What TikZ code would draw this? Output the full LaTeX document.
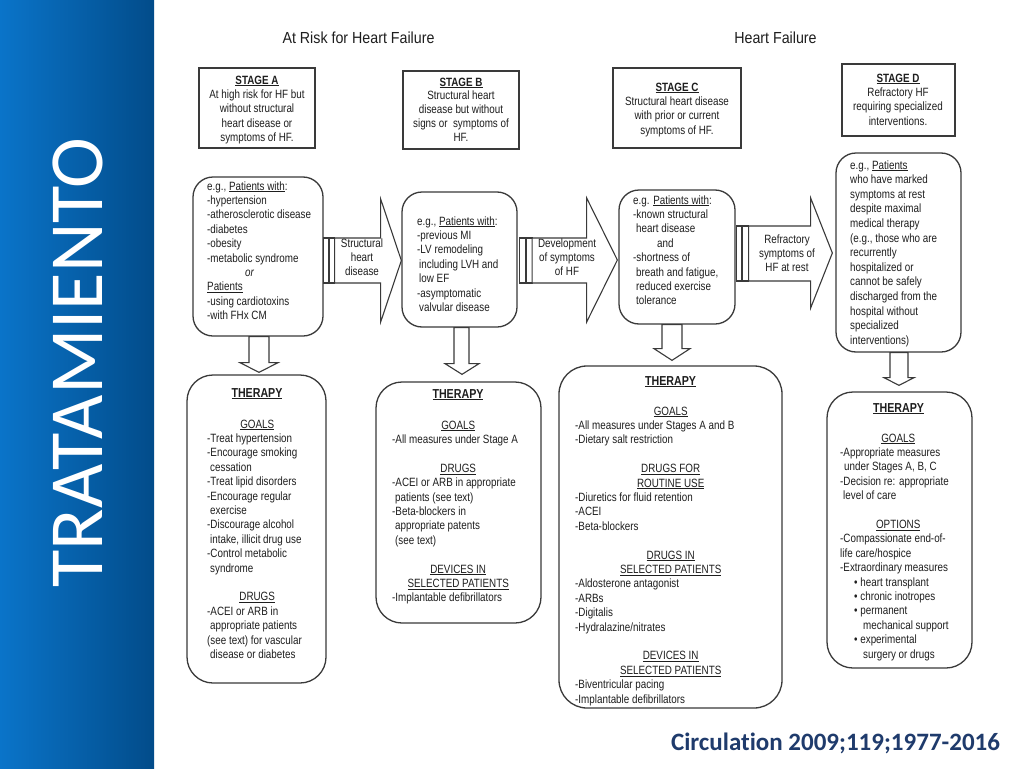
\documentclass[tikz,border=0pt]{standalone}
\usepackage{fontspec}
\setmainfont{Liberation Sans}[FakeStretch=0.82]
\newfontfamily\hdrfont{Liberation Sans}[FakeStretch=0.89]
\newfontfamily\carlito{Carlito}[Ligatures=NoCommon]
\usetikzlibrary{calc}
\definecolor{ink}{HTML}{1E1E1E}
\definecolor{edge}{HTML}{3A3A3A}
\definecolor{barL}{HTML}{0A74C9}
\definecolor{barR}{HTML}{024C8A}
\definecolor{citec}{HTML}{1F3B6C}
\newcommand\bodyf{\fontsize{12}{14.4}\selectfont}
\newcommand\hd[2]{\makebox[#1pt][c]{\underline{#2}}}
\begin{document}
\begin{tikzpicture}[x=1pt,y=-1pt,
  stagebox/.style={draw=edge, line width=1.8pt, inner sep=0, fill=white},
  roundbox/.style={draw=edge, line width=1.3pt, rounded corners=20pt, inner sep=0, fill=white},
  body/.style={font=\bodyf, text=ink, inner sep=0, align=left, anchor=base west},
  ctext/.style={font=\bodyf, text=ink, inner sep=0, align=center, anchor=base},
  thtitle/.style={font=\fontsize{13}{15}\selectfont\bfseries, text=ink, inner sep=0, anchor=base},
  header/.style={font=\hdrfont\fontsize{16}{18}\selectfont, text=ink, inner sep=0, anchor=base},
  blockarrow/.style={draw=edge, line width=1.1pt, fill=white, line join=miter},
]
\fill[white] (0,0) rectangle (1024,768);
\useasboundingbox (0,0) rectangle (1024,768);
\shade[left color=barL, right color=barR] (0,0) rectangle (154,768);
\node[rotate=90, font=\carlito\fontsize{76.5}{80}\selectfont, text=white, inner sep=0] (title) at (77.5,362.5) {TRATAMIENTO};
\node[font=\carlito\bfseries\fontsize{25}{27}\selectfont, text=citec, anchor=base, inner sep=0] (cite) at (835.5,750) {Circulation 2009;119;1977-2016};

% headers
\node[header] (h1) at (358.5,44) {At Risk for Heart Failure};
\node[header] (h2) at (775.5,44) {Heart Failure};

% stage boxes
\node[stagebox, minimum width=116pt, minimum height=80pt] (stA) at (257,108) {};
\node[stagebox, minimum width=116pt, minimum height=78pt] (stB) at (461,110) {};
\node[stagebox, minimum width=128pt, minimum height=80pt] (stC) at (677,108) {};
\node[stagebox, minimum width=113pt, minimum height=72pt] (stD) at (898.5,100) {};

% patient boxes
\node[roundbox, minimum width=130pt, minimum height=159pt] (paA) at (258,256.5) {};
\node[roundbox, minimum width=115pt, minimum height=135pt] (paB) at (459.5,259.5) {};
\node[roundbox, minimum width=116pt, minimum height=134pt] (paC) at (677,257) {};
\node[roundbox, minimum width=125pt, minimum height=199pt] (paD) at (898.5,252.5) {};

% therapy boxes
\node[roundbox, rounded corners=26pt, minimum width=139pt, minimum height=308pt] (thA) at (256.5,529) {};
\node[roundbox, rounded corners=26pt, minimum width=165pt, minimum height=241pt] (thB) at (458.5,502.5) {};
\node[roundbox, rounded corners=28pt, minimum width=223pt, minimum height=342pt] (thC) at (670.5,537) {};
\node[roundbox, rounded corners=26pt, minimum width=145pt, minimum height=276pt] (thD) at (899.5,530) {};

% right block arrows
\draw[blockarrow] ($(paA.east)+(0,-18.5)$) rectangle ++(5,45);
\draw[blockarrow] ($(paA.east)+(6,-18.5)$) rectangle ++(5,45);
\draw[blockarrow] ($(paA.east)+(11,-18.5)$) -- ++(46,0) -- ++(0,-39) -- ($(paB.west)+(0,1)$) -- ($(paA.east)+(57,65.5)$) -- ++(0,-39) -- ++(-46,0) -- cycle;

\draw[blockarrow] ($(paB.east)+(1.5,-21.5)$) rectangle ++(6,45);
\draw[blockarrow] ($(paB.east)+(8.5,-21.5)$) rectangle ++(6,45);
\draw[blockarrow] ($(paB.east)+(14.5,-21.5)$) -- ++(54.5,0) -- ++(0,-40) -- ($(paC.west)+(-1,3)$) -- ($(paB.east)+(69,62.5)$) -- ++(0,-39) -- ++(-54.5,0) -- cycle;

\draw[blockarrow] ($(paC.east)+(0.5,-31)$) rectangle ++(5.5,55);
\draw[blockarrow] ($(paC.east)+(7,-31)$) rectangle ++(5.5,55);
\draw[blockarrow] ($(paC.east)+(13,-31)$) -- ++(62,0) -- ++(0,-28) -- ($(paD.west)+(-3,0.5)$) -- ($(paC.east)+(75,51)$) -- ++(0,-27) -- ++(-62,0) -- cycle;

% down block arrows
\draw[blockarrow] ($(paA.south)+(-9,0)$) -- ++(0,26) -- ++(-9,0) -- ($(thA.north)+(2.5,-2)$) -- ($(paA.south)+(20,26)$) -- ++(-9,0) -- ++(0,-26) -- cycle;
\draw[blockarrow] ($(paB.south)+(-5.5,0)$) -- ++(0,36) -- ++(-9,0) -- ($(thB.north)+(3.5,-7)$) -- ($(paB.south)+(19.5,36)$) -- ++(-10,0) -- ++(0,-36) -- cycle;
\draw[blockarrow] ($(paC.south)+(-15,0)$) -- ++(0,24) -- ++(-8,0) -- ($(thC.north)+(1.5,-5)$) -- ($(paC.south)+(13,24)$) -- ++(-8,0) -- ++(0,-24) -- cycle;
\draw[blockarrow] ($(paD.south)+(-8.5,0)$) -- ++(0,25) -- ++(-6,0) -- ($(thD.north)+(-0.5,-6)$) -- ($(paD.south)+(15.5,25)$) -- ++(-6,0) -- ++(0,-25) -- cycle;

% arrow labels (anchored at the baseline of their last line)
\node[ctext] (lab1) at (362,275.8) {Structural\\heart\\disease};
\node[ctext] (lab2) at (567,275.8) {Development\\of symptoms\\of HF};
\node[ctext] (lab3) at (787,271.8) {Refractory\\symptoms of\\HF at rest};

% stage texts
\node[ctext] (tA) at (257,141.6) {\textbf{\underline{STAGE A}}\\At high risk for HF but\\without structural\\heart disease or\\symptoms of HF.};
\node[ctext, font=\fontsize{12}{13.9}\selectfont] (tB) at (461,141.6) {\textbf{\underline{STAGE B}}\\Structural heart\\disease but without\\signs or\ \ symptoms of\\HF.};
\node[ctext] (tC) at (677,134.2) {\textbf{\underline{STAGE C}}\\Structural heart disease\\with prior or current\\symptoms of HF.};
\node[ctext] (tD) at (898,125.2) {\textbf{\underline{STAGE D}}\\Refractory HF\\requiring specialized\\interventions.};

% patient texts
\node[body] (pA) at (207,319.6) {e.g., \underline{Patients with}:\\-hypertension\\-atherosclerotic disease\\-diabetes\\-obesity\\-metabolic syndrome\\\hspace*{38pt}\textit{or}\\\underline{Patients}\\-using cardiotoxins\\-with FHx CM};
\node[body] (pB) at (417,311.4) {e.g., \underline{Patients with}:\\-previous MI\\-LV remodeling\\\hspace*{2pt}including LVH and\\\hspace*{2pt}low EF\\-asymptomatic\\\hspace*{2pt}valvular disease};
\node[body] (pC) at (633,304.8) {e.g. \underline{Patients with}:\\-known structural\\\hspace*{3pt}heart disease\\\hspace*{24pt}and\\-shortness of\\\hspace*{3pt}breath and fatigue,\\\hspace*{3pt}reduced exercise\\\hspace*{3pt}tolerance};
\node[body, font=\fontsize{12}{14.6}\selectfont] (pD) at (850,344.2) {e.g., \underline{Patients}\\who have marked\\symptoms at rest\\despite maximal\\medical therapy\\(e.g., those who are\\recurrently\\hospitalized or\\cannot be safely\\discharged from the\\hospital without\\specialized\\interventions)};

% therapy titles
\node[thtitle] (ttA) at (257,397) {\underline{THERAPY}};
\node[thtitle] (ttB) at (458,398) {\underline{THERAPY}};
\node[thtitle] (ttC) at (670.5,385) {\underline{THERAPY}};
\node[thtitle] (ttD) at (898.5,412) {\underline{THERAPY}};

% therapy texts
\node[body] (gA) at (207,658.4) {\hd{100}{GOALS}\\-Treat hypertension\\-Encourage smoking\\\hspace*{3pt}cessation\\-Treat lipid disorders\\-Encourage regular\\\hspace*{3pt}exercise\\-Discourage alcohol\\\hspace*{3pt}intake, illicit drug use\\-Control metabolic\\\hspace*{3pt}syndrome\\[14.4pt]\hd{100}{DRUGS}\\-ACEI or ARB in\\\hspace*{3pt}appropriate patients\\(see text) for vascular\\\hspace*{3pt}disease or diabetes};
\node[body] (gB) at (392,601.8) {\hd{132}{GOALS}\\-All measures under Stage A\\[14.4pt]\hd{132}{DRUGS}\\-ACEI or ARB in appropriate\\\hspace*{3pt}patients (see text)\\-Beta-blockers in\\\hspace*{3pt}appropriate patents\\\hspace*{3pt}(see text)\\[14.4pt]\hd{132}{DEVICES IN}\\\hd{132}{SELECTED PATIENTS}\\-Implantable defibrillators};
\node[body] (gC) at (575,703) {\hd{191}{GOALS}\\-All measures under Stages A and B\\-Dietary salt restriction\\[14.4pt]\hd{191}{DRUGS FOR}\\\hd{191}{ROUTINE USE}\\-Diuretics for fluid retention\\-ACEI\\-Beta-blockers\\[14.4pt]\hd{191}{DRUGS IN}\\\hd{191}{SELECTED PATIENTS}\\-Aldosterone antagonist\\-ARBs\\-Digitalis\\-Hydralazine/nitrates\\[14.4pt]\hd{191}{DEVICES IN}\\\hd{191}{SELECTED PATIENTS}\\-Biventricular pacing\\-Implantable defibrillators};
\node[body] (gD) at (840,658) {\hd{116}{GOALS}\\-Appropriate measures\\\hspace*{4pt}under Stages A, B, C\\-Decision re: appropriate\\\hspace*{3pt}level of care\\[14.4pt]\hd{116}{OPTIONS}\\-Compassionate end-of-\\life care/hospice\\-Extraordinary measures\\\hspace*{14pt}• heart transplant\\\hspace*{14pt}• chronic inotropes\\\hspace*{14pt}• permanent\\\hspace*{23pt}mechanical support\\\hspace*{14pt}• experimental\\\hspace*{23pt}surgery or drugs};
\end{tikzpicture}
\end{document}
